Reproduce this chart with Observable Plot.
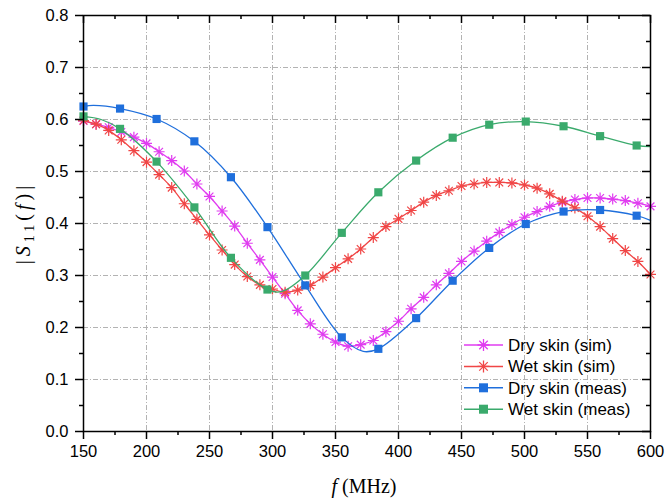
<!DOCTYPE html>
<html><head><meta charset="utf-8">
<script src="https://cdn.jsdelivr.net/npm/d3@7"></script>
<script src="https://cdn.jsdelivr.net/npm/@observablehq/plot@0.6"></script>
<style>body{margin:0;background:#fff} #chart{width:667px;height:502px}</style>
</head><body><div id="chart"></div>
<script>
// ---- data ----
const simFreq = [150,160,170,180,190,200,210,220,230,240,250,260,270,280,290,300,310,320,330,340,350,360,370,380,390,400,410,420,430,440,450,460,470,480,490,500,510,520,530,540,550,560,570,580,590,600];
const drySim = [0.597,0.591,0.585,0.576,0.566,0.554,0.538,0.521,0.501,0.476,0.452,0.424,0.395,0.362,0.330,0.297,0.265,0.233,0.207,0.187,0.172,0.164,0.167,0.175,0.192,0.212,0.236,0.258,0.282,0.304,0.327,0.347,0.366,0.383,0.398,0.412,0.423,0.433,0.441,0.446,0.449,0.449,0.447,0.444,0.439,0.433];
const wetSim = [0.598,0.591,0.579,0.561,0.540,0.518,0.494,0.469,0.438,0.408,0.378,0.349,0.321,0.298,0.282,0.274,0.268,0.272,0.281,0.297,0.315,0.332,0.351,0.373,0.394,0.409,0.425,0.441,0.454,0.463,0.472,0.476,0.479,0.479,0.478,0.474,0.468,0.457,0.443,0.430,0.414,0.394,0.371,0.348,0.327,0.302];
const measFreq = [150,179,208,238,267,296,326,355,384,414,443,472,501,531,560,589];
const dryMeas = [0.625,0.621,0.601,0.558,0.489,0.393,0.281,0.181,0.159,0.218,0.290,0.353,0.399,0.423,0.426,0.415];
const wetMeas = [0.606,0.582,0.519,0.431,0.334,0.273,0.300,0.382,0.460,0.521,0.565,0.590,0.596,0.587,0.568,0.550];
// extra points of the measured traces between markers
const dryMeasExtraF = [158,372,600];
const dryMeasExtraV = [0.627,0.154,0.406];
const wetMeasExtraF = [164,307,600];
const wetMeasExtraV = [0.600,0.269,0.548];
const seriesNames = ["Dry skin (sim)","Wet skin (sim)","Dry skin (meas)","Wet skin (meas)"];
const seriesColors = ["#e03cf0","#f04646","#1f6fdc","#3aaa6c"];
const xMajor = [150,200,250,300,350,400,450,500,550,600];
const xMinor = [175,225,275,325,375,425,475,525,575];
const yMajor = [0.0,0.1,0.2,0.3,0.4,0.5,0.6,0.7,0.8];
const yMinor = [0.05,0.15,0.25,0.35,0.45,0.55,0.65,0.75];

// ---- build tables ----
const simDry = simFreq.map((f,i)=>({f, v:drySim[i]}));
const simWet = simFreq.map((f,i)=>({f, v:wetSim[i]}));
const mDry = measFreq.map((f,i)=>({f, v:dryMeas[i]}));
const mWet = measFreq.map((f,i)=>({f, v:wetMeas[i]}));
const mDryLine = mDry.concat(dryMeasExtraF.map((f,i)=>({f, v:dryMeasExtraV[i]}))).sort((a,b)=>a.f-b.f);
const mWetLine = mWet.concat(wetMeasExtraF.map((f,i)=>({f, v:wetMeasExtraV[i]}))).sort((a,b)=>a.f-b.f);

const asterisk = {draw(ctx, size){
  const r = Math.sqrt(size/Math.PI);
  for (let k=0;k<4;k++){ const a = k*Math.PI/4; const c=Math.cos(a)*r, s=Math.sin(a)*r; ctx.moveTo(-c,-s); ctx.lineTo(c,s); }
}};

const W = 667, H = 502, ML = 83, MR = 17, MT = 15, MB = 71;
const PW = W-ML-MR, PH = H-MT-MB;
const grid = {stroke:"#aaaaaa", strokeOpacity:1, strokeWidth:0.9, strokeDasharray:"5,2,1,2"};
const blank = () => "";
const tk = {stroke:"black", strokeWidth:1.5};

const chart = Plot.plot({
  width:W, height:H, marginLeft:ML, marginRight:MR, marginTop:MT, marginBottom:MB,
  x:{domain:[150,600]}, y:{domain:[0,0.8]},
  style:{fontFamily:"'Liberation Sans', Arial, sans-serif", fontSize:"16.5px", color:"black", background:"white"},
  marks:[
    Plot.gridX(xMajor.slice(1,-1), grid),
    Plot.gridY(yMajor.slice(1,-1), grid),
    Plot.line(simDry, {x:"f", y:"v", stroke:seriesColors[0], strokeWidth:1.3, curve:"catmull-rom"}),
    Plot.dot(simDry, {x:"f", y:"v", stroke:seriesColors[0], symbol:asterisk, r:5.5, strokeWidth:1.2}),
    Plot.line(simWet, {x:"f", y:"v", stroke:seriesColors[1], strokeWidth:1.3, curve:"catmull-rom"}),
    Plot.dot(simWet, {x:"f", y:"v", stroke:seriesColors[1], symbol:asterisk, r:5.5, strokeWidth:1.2}),
    Plot.line(mDryLine, {x:"f", y:"v", stroke:seriesColors[2], strokeWidth:1.3, curve:"catmull-rom"}),
    Plot.dot(mDry, {x:"f", y:"v", fill:seriesColors[2], symbol:"square", r:4.6}),
    Plot.line(mWetLine, {x:"f", y:"v", stroke:seriesColors[3], strokeWidth:1.3, curve:"catmull-rom"}),
    Plot.dot(mWet, {x:"f", y:"v", fill:seriesColors[3], symbol:"square", r:4.6}),
    Plot.frame({stroke:"black", strokeWidth:1.5}),
    Plot.axisX(xMajor, {anchor:"bottom", tickSize:8, tickPadding:6, label:null, strokeWidth:1.5, tickFormat:d=>String(d)}),
    Plot.axisX(xMinor, {anchor:"bottom", tickSize:4, label:null, strokeWidth:1.5, tickFormat:blank}),
    Plot.axisY(yMajor, {anchor:"left", tickSize:8, tickPadding:7, label:null, strokeWidth:1.5, tickFormat:d3.format(".1f")}),
    Plot.axisY(yMinor, {anchor:"left", tickSize:4, label:null, strokeWidth:1.5, tickFormat:blank}),
    // inward ticks on the top and right edges
    Plot.tickX(xMajor, {x:d=>d, insetBottom:PH-8, ...tk}),
    Plot.tickX(xMinor, {x:d=>d, insetBottom:PH-4, ...tk}),
    Plot.tickY(yMajor, {y:d=>d, insetLeft:PW-8, ...tk}),
    Plot.tickY(yMinor, {y:d=>d, insetLeft:PW-4, ...tk})
  ]
});
document.getElementById("chart").appendChild(chart);

// ---- axis titles & legend ----
const svg = d3.select(chart);
const xt = svg.append("text").attr("x",364).attr("y",493).attr("text-anchor","middle")
  .attr("font-family","'Liberation Serif', 'Times New Roman', serif").attr("font-size",20).attr("fill","black");
xt.append("tspan").attr("font-style","italic").text("f");
xt.append("tspan").text(" (MHz)");

const yt = svg.append("text").attr("transform","translate(30,223) rotate(-90)").attr("text-anchor","middle")
  .attr("font-family","'Liberation Serif', 'Times New Roman', serif").attr("font-size",20).attr("fill","black")
  .attr("letter-spacing","4");
yt.append("tspan").text("|");
yt.append("tspan").attr("font-style","italic").text("S");
yt.append("tspan").attr("font-size",14).attr("dy",4).text("11");
yt.append("tspan").attr("dy",-4).text("(");
yt.append("tspan").attr("font-style","italic").text("f");
yt.append("tspan").text(")|");

const lg = svg.append("g").attr("font-family","'Liberation Sans', Arial, sans-serif").attr("font-size",17).attr("text-anchor","start");
seriesNames.forEach((name,i)=>{
  const y = 345 + i*21.4;
  const g = lg.append("g").attr("transform",`translate(0,${y})`);
  g.append("line").attr("x1",464).attr("x2",503).attr("y1",0).attr("y2",0).attr("stroke",seriesColors[i]).attr("stroke-width",1.5);
  if (i<2){
    const p = d3.path(); asterisk.draw(p, Math.PI*6*6);
    g.append("path").attr("d",p.toString()).attr("transform","translate(483.5,0)").attr("stroke",seriesColors[i]).attr("stroke-width",1.3).attr("fill","none");
  } else {
    g.append("rect").attr("x",483.5-4.5).attr("y",-4.5).attr("width",9).attr("height",9).attr("fill",seriesColors[i]);
  }
  g.append("text").attr("x",508).attr("y",0).attr("dy","0.35em").attr("fill","black").text(name);
});
</script>
</body></html>
